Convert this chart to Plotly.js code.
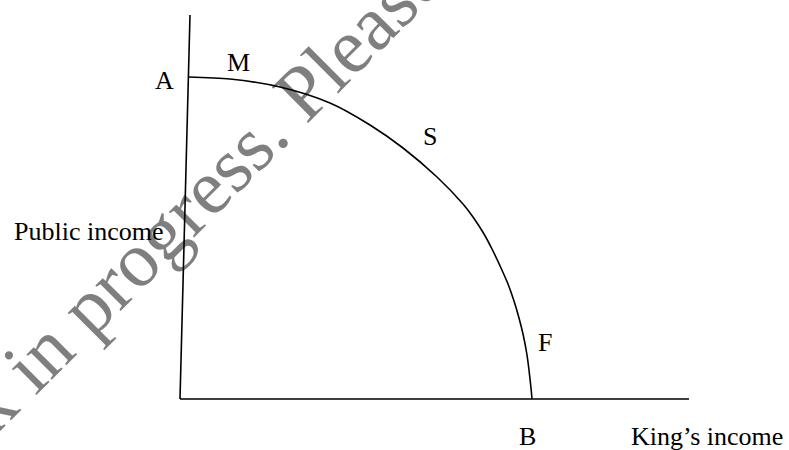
<!DOCTYPE html>
<html>
<head>
<meta charset="utf-8">
<script src="https://cdn.plot.ly/plotly-3.0.1.min.js"></script>
<style>
  html, body { margin: 0; padding: 0; background: #fff; }
  #chart { width: 789px; height: 450px; }
</style>
</head>
<body>
<div id="chart"></div>
<script>
'use strict';

// axes of the diagram (origin at the corner)
let public_axis_x = [0, 10];
let public_axis_y = [0, 384];
let king_axis_x = [0, 509];
let king_axis_y = [0, 0];

// the frontier from A down to B
let frontier_x = [8, 50, 100, 150, 190, 223, 257, 283, 293, 304, 313, 321, 328, 334, 339, 343, 347, 351, 352];
let frontier_y = [322, 320, 312, 296, 274, 251, 222, 195, 182, 165, 148, 131, 115, 98, 81, 65, 44, 11, 0];

// point labels
let point_names = ['A', 'M', 'S', 'F', 'B'];
let point_x = [-16, 58, 250, 365, 347];
let point_y = [318.5, 337, 263, 56.5, -37.5];

let axis_names = ['Public income', 'King\u2019s income'];
let axis_name_x = [-92, 449];
let axis_name_y = [167.5, -37.5];
let axis_name_anchor = ['center', 'left'];

let watermark = 'Work in progress. Please';

function line_trace(xs, ys, shape){
    return {
        x: xs,
        y: ys,
        type: 'scatter',
        mode: 'lines',
        hoverinfo: 'skip',
        line: {color: '#000', width: 1.6, shape: shape || 'linear', smoothing: 0.8}
    };
}

function draw(){
    let traces = [
        line_trace(public_axis_x, public_axis_y),
        line_trace(king_axis_x, king_axis_y),
        line_trace(frontier_x, frontier_y, 'spline')
    ];

    let serif = {family: 'Liberation Serif, Times New Roman, serif', size: 26, color: '#000'};

    // semi-transparent black so the black lines still read on top of it
    let notes = [{
        text: watermark,
        xref: 'paper', yref: 'paper',
        x: 0.197, y: 0.47,
        xanchor: 'center', yanchor: 'middle',
        textangle: -45,
        showarrow: false,
        font: {family: 'Liberation Serif, Times New Roman, serif', size: 78, color: 'rgba(0,0,0,0.5)'}
    }];

    for (let i = 0; i < point_names.length; i++){
        notes.push({
            text: point_names[i], x: point_x[i], y: point_y[i],
            xanchor: 'center', yanchor: 'middle', showarrow: false, font: serif
        });
    }
    for (let i = 0; i < axis_names.length; i++){
        notes.push({
            text: axis_names[i], x: axis_name_x[i], y: axis_name_y[i],
            xanchor: axis_name_anchor[i], yanchor: 'middle', showarrow: false, font: serif
        });
    }

    let layout = {
        width: 789,
        height: 450,
        margin: {l: 0, r: 0, t: 0, b: 0, pad: 0},
        showlegend: false,
        paper_bgcolor: '#fff',
        plot_bgcolor: '#fff',
        xaxis: {range: [-180, 609], visible: false, fixedrange: true},
        yaxis: {range: [-51, 399], visible: false, fixedrange: true},
        annotations: notes
    };

    Plotly.newPlot('chart', traces, layout, {displayModeBar: false, staticPlot: true});
}

draw();
</script>
</body>
</html>
